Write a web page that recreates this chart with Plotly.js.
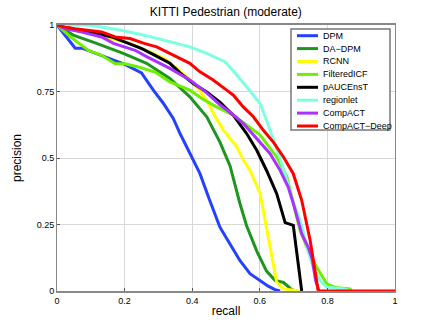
<!DOCTYPE html>
<html><head><meta charset="utf-8">
<script src="https://cdn.plot.ly/plotly-3.0.1.min.js"></script>
<style>html,body{margin:0;padding:0;background:#fff}#chart{width:436px;height:327px}</style>
</head><body><div id="chart"></div>
<script>
const names = ["DPM","DA\u2212DPM","RCNN","FilteredICF","pAUCEnsT","regionlet","CompACT","CompACT\u2212Deep"];
const colors = ["rgb(35,65,255)","rgb(30,150,30)","rgb(255,255,0)","rgb(110,240,0)","rgb(0,0,0)","rgb(125,255,225)","rgb(170,50,255)","rgb(255,0,0)"];

const recallDPM = [0,0.054,0.074,0.128,0.178,0.201,0.25,0.285,0.315,0.344,0.364,0.384,0.403,0.423,0.452,0.482,0.502,0.541,0.571,0.601,0.625,0.645,0.66];
const precDPM   = [1,0.913,0.913,0.888,0.863,0.852,0.82,0.755,0.705,0.649,0.592,0.542,0.492,0.441,0.34,0.24,0.197,0.115,0.065,0.04,0.018,0.005,0];

const recallDADPM = [0,0.048,0.117,0.196,0.265,0.334,0.393,0.443,0.482,0.512,0.541,0.561,0.591,0.62,0.645,0.67,0.684,0.694,0.709];
const precDADPM   = [1,0.962,0.931,0.893,0.856,0.799,0.73,0.655,0.56,0.47,0.33,0.245,0.15,0.075,0.04,0.032,0.017,0.005,0];

const recallRCNN = [0,0.117,0.216,0.3,0.324,0.384,0.413,0.443,0.463,0.492,0.532,0.551,0.571,0.601,0.62,0.635,0.65,0.669,0.719];
const precRCNN   = [1,0.962,0.931,0.885,0.868,0.805,0.768,0.718,0.667,0.605,0.542,0.492,0.453,0.366,0.24,0.127,0.033,0.008,0];

const recallICF = [0,0.039,0.093,0.132,0.172,0.201,0.241,0.29,0.334,0.393,0.433,0.472,0.522,0.561,0.601,0.62,0.65,0.68,0.699,0.719,0.743,0.768,0.798,0.828,0.867,0.87];
const precICF   = [1,0.956,0.904,0.886,0.854,0.854,0.842,0.823,0.786,0.755,0.72,0.692,0.661,0.623,0.586,0.554,0.504,0.429,0.335,0.228,0.153,0.09,0.027,0.012,0.008,0];

const recallPAUC = [0,0.033,0.053,0.093,0.122,0.162,0.201,0.251,0.29,0.334,0.364,0.403,0.443,0.482,0.522,0.561,0.591,0.62,0.65,0.675,0.699,0.709,0.719,0.724];
const precPAUC   = [1,0.992,0.98,0.974,0.967,0.955,0.936,0.911,0.886,0.856,0.82,0.78,0.748,0.71,0.66,0.592,0.529,0.453,0.366,0.257,0.247,0.15,0.04,0];

const recallRegionlet = [0,0.093,0.191,0.27,0.334,0.393,0.443,0.497,0.532,0.571,0.601,0.62,0.64,0.66,0.68,0.694,0.719,0.743,0.758,0.778,0.798,0.85,0.867];
const precRegionlet   = [1,1,0.98,0.958,0.937,0.918,0.893,0.862,0.812,0.75,0.705,0.642,0.57,0.5,0.416,0.35,0.266,0.15,0.09,0.04,0.014,0.008,0];

const recallCompACT = [0,0.024,0.068,0.132,0.167,0.231,0.265,0.334,0.393,0.443,0.482,0.512,0.551,0.591,0.63,0.66,0.684,0.699,0.724,0.743,0.755,0.765,0.775];
const precCompACT   = [1,0.986,0.975,0.955,0.931,0.905,0.881,0.837,0.793,0.745,0.7,0.672,0.63,0.573,0.517,0.454,0.391,0.33,0.215,0.165,0.12,0.04,0];

const recallDeep = [0,0.024,0.053,0.093,0.132,0.172,0.216,0.26,0.295,0.344,0.393,0.423,0.462,0.502,0.522,0.551,0.581,0.61,0.64,0.67,0.699,0.724,0.749,0.773,1];
const precDeep   = [1,0.992,0.986,0.98,0.974,0.955,0.949,0.93,0.918,0.887,0.856,0.824,0.793,0.755,0.736,0.692,0.655,0.605,0.56,0.504,0.441,0.341,0.19,0,0];

const xs = [recallDPM,recallDADPM,recallRCNN,recallICF,recallPAUC,recallRegionlet,recallCompACT,recallDeep];
const ys = [precDPM,precDADPM,precRCNN,precICF,precPAUC,precRegionlet,precCompACT,precDeep];

const xTicks = [0,0.2,0.4,0.6,0.8,1];
const xTickText = ["0","0.2","0.4","0.6","0.8","1"];
const yTicks = [0,0.25,0.5,0.75,1];
const yTickText = ["0","0.25","0.5","0.75","1"];

const traces = names.map((n,i)=>({
  x: xs[i], y: ys[i], name: n, type: 'scatter', mode: 'lines',
  line: {color: colors[i], width: 3}, showlegend: false
}));

// compact MATLAB-style legend built from names/colors (paper coordinates)
const W = 436, H = 327, ML = 57, MR = 41, MT = 25, MB = 36;
const pw = W - ML - MR, ph = H - MT - MB;
const px = v => (v - ML) / pw;
const py = v => (H - MB - v) / ph;
const legBox = {x0: 291, x1: 390, y0: 29, y1: 130, row0: 35.7, step: 12.9, lx0: 297, lx1: 318, tx: 321};
const shapes = [{
  type: 'rect', xref: 'paper', yref: 'paper',
  x0: px(legBox.x0), x1: px(legBox.x1), y0: py(legBox.y1), y1: py(legBox.y0),
  fillcolor: '#fff', line: {color: '#777', width: 1.5}, layer: 'above'
}];
const annotations = [];
names.forEach((n,i)=>{
  const yy = py(legBox.row0 + i*legBox.step);
  shapes.push({type:'line', xref:'paper', yref:'paper', x0: px(legBox.lx0), x1: px(legBox.lx1), y0: yy, y1: yy,
    line:{color: colors[i], width: 3}, layer:'above'});
  annotations.push({xref:'paper', yref:'paper', x: px(legBox.tx), y: yy, xanchor:'left', yanchor:'middle',
    text: n, showarrow:false, font:{size: 9, family: "Liberation Sans, Arial, sans-serif", color:'#000'}});
});

const font = "Liberation Sans, Arial, sans-serif";
const layout = {
  width: W, height: H,
  margin: {l: ML, r: MR, t: MT, b: MB},
  paper_bgcolor: '#fff', plot_bgcolor: '#fff',
  font: {family: font, color: '#000', size: 9},
  title: {text: 'KITTI Pedestrian (moderate)', font: {family: font, size: 12, color: '#000'}, x: 0.518, xanchor: 'center', y: 0.965, yanchor: 'middle'},
  xaxis: {
    range: [0,1], tickvals: xTicks, ticktext: xTickText,
    showgrid: true, gridcolor: '#d8d8d8', gridwidth: 1,
    zeroline: false, showline: true, linecolor: '#888', linewidth: 2, mirror: true,
    ticks: 'inside', ticklen: 3, tickcolor: '#555',
    tickfont: {size: 9, family: font},
    title: {text: 'recall', font: {size: 12, family: font}, standoff: 2}
  },
  yaxis: {
    range: [0,1], tickvals: yTicks, ticktext: yTickText,
    showgrid: true, gridcolor: '#d8d8d8', gridwidth: 1,
    zeroline: false, showline: true, linecolor: '#888', linewidth: 1, mirror: true,
    ticks: 'inside', ticklen: 3, tickcolor: '#555',
    tickfont: {size: 9, family: font},
    title: {text: 'precision', font: {size: 12, family: font}, standoff: 12}
  },
  showlegend: false,
  shapes: shapes,
  annotations: annotations
};

Plotly.newPlot('chart', traces, layout, {displayModeBar: false, staticPlot: true});
</script></body></html>
